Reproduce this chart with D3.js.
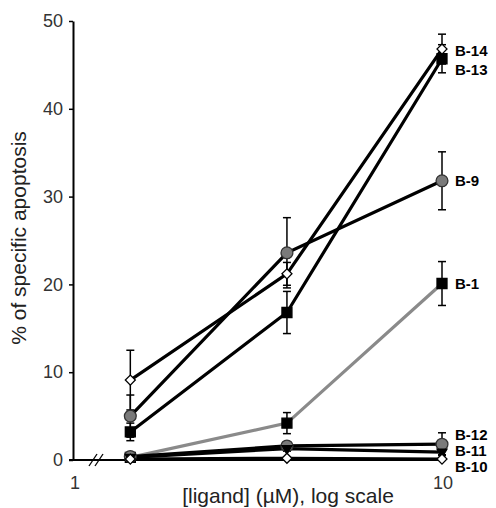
<!DOCTYPE html>
<html lang="en">
<head>
<meta charset="utf-8">
<script src="https://d3js.org/d3.v7.min.js"></script>
<style>
  body { margin: 0; background: #fff; }
  svg text { font-family: "Liberation Sans", Arial, sans-serif; }
</style>
</head>
<body>
<div id="my_graph"></div>
<script>
// ligand concentrations (uM)
const conc = [1.43, 3.8, 10];

// series means and error bars
const b1  = [0.3, 4.2, 20.1],  b1Err  = [0.3, 1.2, 2.5];
const b12 = [0.4, 1.6, 1.8],   b12Err = [0.3, 0.4, 1.3];
const b11 = [0.3, 1.3, 0.9],   b11Err = [0.2, 0.3, 0.3];
const b10 = [0.1, 0.2, 0.1],   b10Err = [0.1, 0.1, 0.1];
const b9  = [5.0, 23.6, 31.8], b9Err  = [2.4, 4.0, 3.3];
const b13 = [3.2, 16.8, 45.7], b13Err = [1.0, 2.4, 1.6];
const b14 = [9.1, 21.2, 46.8], b14Err = [3.4, 1.3, 1.7];

const yTicks = [0, 10, 20, 30, 40, 50];
const xTickLabels = [1, 10];

// styling per series
const series = [
  {name: "B-1",  v: b1,  e: b1Err,  line: "#8a8a8a", shape: "square",  fill: "#000", labelY: 20.1},
  {name: "B-12", v: b12, e: b12Err, line: "#000",    shape: "circle",  fill: "#7a7a7a", labelY: 2.9},
  {name: "B-11", v: b11, e: b11Err, line: "#000",    shape: "triangle",fill: "#000", labelY: 1.1},
  {name: "B-10", v: b10, e: b10Err, line: "#000",    shape: "diamond", fill: "#fff", labelY: -0.8},
  {name: "B-9",  v: b9,  e: b9Err,  line: "#000",    shape: "circle",  fill: "#7a7a7a", labelY: 31.8},
  {name: "B-13", v: b13, e: b13Err, line: "#000",    shape: "square",  fill: "#000", labelY: 44.4},
  {name: "B-14", v: b14, e: b14Err, line: "#000",    shape: "diamond", fill: "#fff", labelY: 46.6}
];

const W = 496, H = 508;
const svg = d3.select("#my_graph").append("svg")
  .attr("width", W).attr("height", H);

const x = d3.scaleLog().domain([1, 10]).range([73, 442]);
const y = d3.scaleLinear().domain([0, 50]).range([460, 21]);

// y axis
const yAxis = svg.append("g")
  .attr("transform", "translate(73,0)")
  .call(d3.axisLeft(y).tickValues(yTicks).tickSize(4).tickSizeOuter(0).tickPadding(6));
yAxis.select(".domain").attr("stroke", "#000").attr("stroke-width", 2);
yAxis.selectAll(".tick line").attr("stroke", "#000").attr("stroke-width", 1.5);
yAxis.selectAll("text").attr("font-size", 18).attr("fill", "#333");

// x axis with break
svg.append("line")
  .attr("x1", x(1) - 4).attr("x2", x(10))
  .attr("y1", y(0)).attr("y2", y(0))
  .attr("stroke", "#000").attr("stroke-width", 2);
const bx = 96;
[-3, 3].forEach(d => {
  svg.append("line")
    .attr("x1", bx + d - 4).attr("y1", y(0) + 6)
    .attr("x2", bx + d + 4).attr("y2", y(0) - 6)
    .attr("stroke", "#000").attr("stroke-width", 1.3);
});
svg.selectAll(".xtl").data(xTickLabels).join("text")
  .attr("class", "xtl")
  .attr("x", d => x(d) + (d === 1 ? 2 : 1))
  .attr("y", y(0) + 29)
  .attr("text-anchor", "middle")
  .attr("font-size", 18).attr("fill", "#333")
  .text(d => d);

// axis titles
svg.append("text")
  .attr("transform", "translate(26,238) rotate(-90)")
  .attr("text-anchor", "middle")
  .attr("font-size", 21).attr("fill", "#222")
  .text("% of specific apoptosis");
svg.append("text")
  .attr("x", 288).attr("y", 503)
  .attr("text-anchor", "middle")
  .attr("font-size", 21).attr("fill", "#222")
  .text("[ligand] (\u00b5M), log scale");

const line = d3.line().x(d => x(d[0])).y(d => y(d[1]));

// error bars
series.forEach(s => {
  const g = svg.append("g");
  s.v.forEach((v, i) => {
    const cx = x(conc[i]);
    const lo = y(Math.max(0, v - s.e[i])), hi = y(v + s.e[i]);
    g.append("line").attr("x1", cx).attr("x2", cx).attr("y1", lo).attr("y2", hi)
      .attr("stroke", "#000").attr("stroke-width", 1.5);
    [lo, hi].forEach(yy => g.append("line")
      .attr("x1", cx - 4).attr("x2", cx + 4).attr("y1", yy).attr("y2", yy)
      .attr("stroke", "#000").attr("stroke-width", 1.5));
  });
});

// lines
series.forEach(s => {
  svg.append("path")
    .datum(s.v.map((v, i) => [conc[i], v]))
    .attr("d", line)
    .attr("fill", "none")
    .attr("stroke", s.line)
    .attr("stroke-width", 3.2);
});

// markers
const symType = {square: d3.symbolSquare, circle: d3.symbolCircle, triangle: d3.symbolTriangle2, diamond: d3.symbolSquare};
const symSize = {square: 100, circle: 110, triangle: 70, diamond: 50};
series.forEach(s => {
  svg.selectAll(null).data(s.v).join("path")
    .attr("transform", (v, i) => `translate(${x(conc[i])},${y(v)})` +
      (s.shape === "triangle" ? " rotate(180)" : s.shape === "diamond" ? " rotate(45)" : ""))
    .attr("d", d3.symbol().type(symType[s.shape]).size(symSize[s.shape]))
    .attr("fill", s.fill)
    .attr("stroke", s.fill === "#7a7a7a" ? "#333" : "#000")
    .attr("stroke-width", 1.3);
});

// series labels
series.forEach(s => {
  svg.append("text")
    .attr("x", 455).attr("y", y(s.labelY))
    .attr("dy", "0.35em")
    .attr("font-size", 15).attr("font-weight", "bold").attr("fill", "#000")
    .text(s.name);
});
</script>
</body>
</html>
